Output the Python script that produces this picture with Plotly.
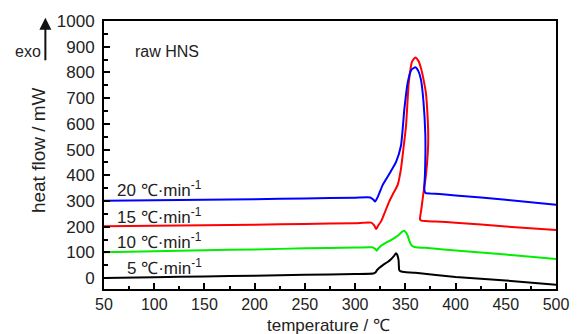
import plotly.graph_objects as go

# 20 K/min (blue)
t20 = [50, 100, 150, 200, 250, 300, 315, 318, 320, 323, 327.5, 334, 340.8, 345.7, 349, 352.3, 356, 360, 363, 365.6, 368, 369.9, 370, 369.5, 368.9, 370, 375, 384, 400, 450, 500]
v20 = [301, 303, 305, 307, 310, 313, 314, 306, 298, 320, 363, 405, 452, 516, 656, 759, 810, 820, 805, 771, 690, 560, 480, 400, 345, 331, 329, 327, 322, 305, 286]

# 15 K/min (red)
t15 = [50, 100, 150, 200, 250, 300, 316, 319, 321, 323, 326, 330, 334, 338, 342.4, 345.7, 348, 350.7, 353.4, 356.7, 360, 363, 365.6, 368, 370.5, 372, 372.8, 372.4, 370.5, 368, 366, 364.6, 366, 370, 380, 400, 450, 500]
v15 = [202, 204, 206, 208, 211, 214, 216, 205, 191, 205, 222, 260, 299, 330, 363, 426, 500, 593, 759, 842, 858, 845, 816, 775, 720, 640, 554, 490, 400, 331, 270, 229, 224, 222, 220, 216, 201, 187]

# 10 K/min (green)
t10 = [50, 100, 150, 200, 250, 300, 317, 320, 321.5, 323, 325.8, 330, 335.7, 342.4, 346, 348.4, 350.5, 352.4, 354, 355.7, 358, 360.7, 370, 400, 450, 500]
v10 = [101, 105, 109, 112, 116, 119, 120, 114, 107, 115, 126, 136, 148, 165, 178, 184, 178, 165, 145, 130, 123, 120, 118, 108, 92, 75]

# 5 K/min (black)
t5 = [50, 100, 150, 200, 250, 300, 318, 320.2, 322, 324.2, 328, 332.4, 336, 339, 340.7, 342, 343.3, 344, 346, 349, 360, 400, 450, 500]
v5 = [1, 4, 7, 10, 13, 16, 18, 22, 32, 41, 52, 63, 75, 88, 97, 90, 69, 31, 26, 24, 21, 5, -9, -25]

rate_labels = ["20 ℃·min", "15 ℃·min", "10 ℃·min", "5 ℃·min"]
label_x = [61, 61, 61, 71]
label_y = [345, 241, 146, 42]

x_ticks = list(range(50, 501, 50))
y_ticks = list(range(0, 1001, 100))

FONT = "Liberation Sans, Arial, sans-serif"

fig = go.Figure()
for t, v, c in [(t5, v5, "black"), (t10, v10, "#00ee00"), (t15, v15, "#ff0000"), (t20, v20, "#0000ff")]:
    fig.add_trace(go.Scatter(x=t, y=v, mode="lines", line=dict(color=c, width=2, shape="spline", smoothing=0.5), showlegend=False))

for txt, lx, ly in zip(rate_labels, label_x, label_y):
    fig.add_annotation(x=lx, y=ly, xref="x", yref="y", text=txt + "<sup>-1</sup>", showarrow=False,
                       xanchor="left", yanchor="middle", font=dict(size=17, color="#222", family=FONT))

fig.add_annotation(x=0.064, y=0.886, xref="paper", yref="paper", text="raw HNS", showarrow=False,
                   xanchor="left", yanchor="middle", font=dict(size=16, color="#222", family=FONT))
fig.add_annotation(x=-0.169, y=0.886, xref="paper", yref="paper", text="exo", showarrow=False,
                   xanchor="center", yanchor="middle", font=dict(size=16, color="#222", family=FONT))
fig.add_annotation(x=-0.1297, y=1.012, xref="paper", yref="paper", text="", showarrow=True,
                   ax=0, ay=44, arrowhead=2, arrowsize=1.2, arrowwidth=2, arrowcolor="#111")
fig.add_annotation(x=-0.145, y=0.52, xref="paper", yref="paper", text="heat flow / mW", showarrow=False,
                   textangle=-90, xanchor="center", yanchor="middle", font=dict(size=19, color="#222", family=FONT))
fig.add_annotation(x=0.497, y=-0.135, xref="paper", yref="paper", text="temperature / ℃", showarrow=False,
                   xanchor="center", yanchor="middle", font=dict(size=17, color="#222", family=FONT))

fig.update_xaxes(range=[50, 500], tickvals=x_ticks, ticks="inside", ticklen=6, tickwidth=1.5, tickcolor="black",
                 minor=dict(ticks="inside", ticklen=3.5, dtick=25, tickcolor="black", tickwidth=1.5),
                 showline=True, linewidth=2, linecolor="black", mirror=True, showgrid=False, zeroline=False,
                 tickfont=dict(size=16, color="#222", family=FONT), ticklabelstandoff=0)
fig.update_yaxes(range=[-42, 1000], tickvals=y_ticks, ticks="inside", ticklen=6, tickwidth=1.5, tickcolor="black",
                 minor=dict(ticks="inside", ticklen=3.5, dtick=50, tickcolor="black", tickwidth=1.5),
                 showline=True, linewidth=2, linecolor="black", mirror=True, showgrid=False, zeroline=False,
                 tickfont=dict(size=17, color="#222", family=FONT), ticklabelstandoff=4)

fig.update_layout(width=581, height=334, margin=dict(l=104, r=22, t=17, b=45),
                  plot_bgcolor="white", paper_bgcolor="white")
fig.write_html("out.html")
